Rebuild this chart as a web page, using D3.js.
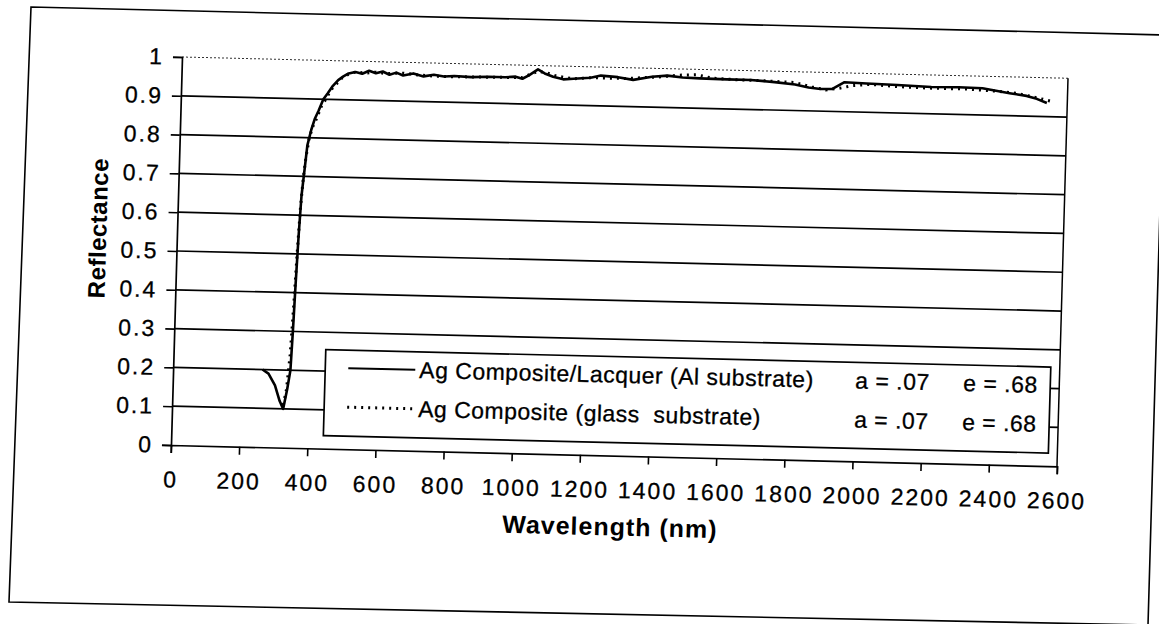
<!DOCTYPE html>
<html>
<head>
<meta charset="utf-8">
<script src="https://cdn.jsdelivr.net/npm/d3@7"></script>
<style>
  body { margin: 0; background: #fff; }
  svg { display: block; }
</style>
</head>
<body>
<div id="chart"></div>
<script>
// axis ticks
const xTicks = [0, 200, 400, 600, 800, 1000, 1200, 1400, 1600, 1800, 2000, 2200, 2400, 2600];
const yTicks = [0, 0.1, 0.2, 0.3, 0.4, 0.5, 0.6, 0.7, 0.8, 0.9, 1];

// Ag Composite/Lacquer (Al substrate) - solid line
const lacquerNm = [262, 280, 300, 315, 326, 336, 344, 348, 352, 357, 362, 368, 375, 385, 395, 405, 418, 430, 445, 460, 475, 490, 510, 530, 550, 570, 590, 610, 630, 650, 680, 710, 740, 770, 800, 850, 900, 950, 980, 1000, 1020, 1045, 1065, 1090, 1120, 1150, 1200, 1230, 1280, 1325, 1380, 1425, 1470, 1520, 1600, 1670, 1740, 1800, 1840, 1875, 1910, 1945, 2010, 2100, 2200, 2280, 2350, 2430, 2480, 2510, 2540];
const lacquerR = [0.20, 0.19, 0.16, 0.12, 0.10, 0.15, 0.20, 0.30, 0.42, 0.55, 0.65, 0.71, 0.78, 0.82, 0.85, 0.87, 0.90, 0.915, 0.935, 0.95, 0.96, 0.968, 0.972, 0.968, 0.976, 0.97, 0.975, 0.967, 0.973, 0.966, 0.972, 0.965, 0.97, 0.966, 0.968, 0.966, 0.968, 0.968, 0.97, 0.965, 0.975, 0.99, 0.98, 0.972, 0.966, 0.968, 0.972, 0.978, 0.975, 0.969, 0.978, 0.982, 0.978, 0.977, 0.976, 0.976, 0.972, 0.967, 0.96, 0.957, 0.958, 0.976, 0.974, 0.972, 0.969, 0.97, 0.969, 0.958, 0.952, 0.945, 0.935];

// Ag Composite (glass substrate) - dotted line
const glassNm = [326, 334, 342, 348, 354, 360, 366, 372, 380, 390, 400, 412, 425, 440, 455, 470, 490, 510, 540, 570, 600, 650, 700, 750, 800, 900, 1000, 1045, 1070, 1100, 1150, 1200, 1300, 1400, 1460, 1510, 1560, 1620, 1700, 1800, 1850, 1890, 1930, 1970, 2020, 2100, 2200, 2300, 2400, 2450, 2500, 2550];
const glassR = [0.11, 0.15, 0.24, 0.36, 0.50, 0.62, 0.70, 0.75, 0.80, 0.83, 0.85, 0.88, 0.90, 0.925, 0.94, 0.955, 0.966, 0.972, 0.97, 0.973, 0.97, 0.972, 0.968, 0.966, 0.966, 0.967, 0.968, 0.985, 0.982, 0.974, 0.968, 0.972, 0.972, 0.978, 0.984, 0.986, 0.978, 0.976, 0.975, 0.972, 0.962, 0.955, 0.96, 0.968, 0.972, 0.968, 0.966, 0.966, 0.962, 0.958, 0.95, 0.94];

const seriesNames = ["Ag Composite/Lacquer (Al substrate)", "Ag Composite (glass  substrate)"];
const absorptance = [".07", ".07"];
const emittance = [".68", ".68"];

const width = 1159;
const height = 624;
const W = 886;   // plot area
const H = 388;
const font = '"Liberation Sans", Arial, sans-serif';

const svg = d3.select("#chart")
  .append("svg")
  .attr("width", width)
  .attr("height", height);

svg.append("rect")
  .attr("width", width)
  .attr("height", height)
  .attr("fill", "#fff");

// outer chart border (skewed by the scan)
const frame = [[31, 7], [1165, 35], [1148, 625], [9, 602]];
svg.append("path")
  .attr("d", d3.line()(frame) + "Z")
  .attr("fill", "none")
  .attr("stroke", "#000")
  .attr("stroke-width", 1.6);

// the scanned page is a little crooked: horizontals drop ~1.4deg, verticals lean ~1.6deg
const g = svg.append("g")
  .attr("transform", "matrix(1,0.024,-0.0284,1,182,57)");

const x = d3.scaleLinear().domain([0, 2600]).range([0, W]);
const y = d3.scaleLinear().domain([0, 1]).range([H, 0]);

// gridlines
g.selectAll(".grid")
  .data(yTicks.filter(d => d > 0 && d < 1))
  .join("line")
  .attr("class", "grid")
  .attr("x1", 0).attr("x2", W)
  .attr("y1", d => y(d)).attr("y2", d => y(d))
  .attr("stroke", "#000")
  .attr("stroke-width", 1.7);

// top edge is a faint dotted line, right edge solid
g.append("line")
  .attr("x1", 0).attr("x2", W)
  .attr("y1", y(1)).attr("y2", y(1))
  .attr("stroke", "#333")
  .attr("stroke-width", 1)
  .attr("stroke-dasharray", "2,2");

g.append("line")
  .attr("x1", W).attr("x2", W)
  .attr("y1", 0).attr("y2", H)
  .attr("stroke", "#000")
  .attr("stroke-width", 1.5);

// axes
const yAxis = g.append("g")
  .call(d3.axisLeft(y).tickValues(yTicks).tickFormat(d => String(d)).tickSize(9).tickPadding(9));

const xAxis = g.append("g")
  .attr("transform", `translate(0,${H})`)
  .call(d3.axisBottom(x).tickValues(xTicks).tickFormat(d => String(d)).tickSize(8).tickPadding(18));

[yAxis, xAxis].forEach(ax => {
  ax.attr("font-family", font).attr("font-size", 23);
  ax.select(".domain").attr("stroke", "#000").attr("stroke-width", 1.7);
  ax.selectAll(".tick line").attr("stroke", "#000").attr("stroke-width", 1.6);
  ax.selectAll(".tick text")
    .attr("fill", "#000")
    .attr("stroke", "#000")
    .attr("stroke-width", 0.3)
    .attr("letter-spacing", 2);
});

// curves
const line = d3.line()
  .x(d => x(d[0]))
  .y(d => y(d[1]));

g.append("path")
  .datum(d3.zip(lacquerNm, lacquerR))
  .attr("fill", "none")
  .attr("stroke", "#000")
  .attr("stroke-width", 2.6)
  .attr("stroke-linejoin", "round")
  .attr("d", line);

g.append("path")
  .datum(d3.zip(glassNm, glassR))
  .attr("fill", "none")
  .attr("stroke", "#000")
  .attr("stroke-width", 3)
  .attr("stroke-dasharray", "2,5")
  .attr("d", line);

// axis titles
g.append("text")
  .attr("transform", "translate(-79,173) rotate(-90)")
  .attr("text-anchor", "middle")
  .attr("dy", "0.35em")
  .attr("font-family", font)
  .attr("font-weight", "bold")
  .attr("font-size", 24)
  .attr("letter-spacing", 0.5)
  .text("Reflectance");

g.append("text")
  .attr("x", 441)
  .attr("y", H + 71)
  .attr("text-anchor", "middle")
  .attr("dy", "0.35em")
  .attr("font-family", font)
  .attr("font-weight", "bold")
  .attr("font-size", 25)
  .attr("letter-spacing", 1)
  .text("Wavelength (nm)");

// legend
const legend = g.append("g").attr("transform", "translate(152,289)");

legend.append("rect")
  .attr("width", 725)
  .attr("height", 86)
  .attr("fill", "#fff")
  .attr("stroke", "#000")
  .attr("stroke-width", 1.7);

const rowY = [18, 57];
const dashes = [null, "2,5"];

const legendText = (xPos, yPos, txt) => legend.append("text")
  .attr("x", xPos)
  .attr("y", yPos)
  .attr("dy", "0.35em")
  .attr("font-family", font)
  .attr("font-size", 23)
  .attr("letter-spacing", 0.5)
  .attr("stroke", "#000")
  .attr("stroke-width", 0.3)
  .style("white-space", "pre")
  .text(txt);

seriesNames.forEach((name, i) => {
  legend.append("line")
    .attr("x1", 23).attr("x2", 90)
    .attr("y1", rowY[i]).attr("y2", rowY[i])
    .attr("stroke", "#000")
    .attr("stroke-width", i === 0 ? 2 : 3)
    .attr("stroke-dasharray", dashes[i]);

  legendText(94, rowY[i], name);
  legendText(530, rowY[i], "a = " + absorptance[i]);
  legendText(638, rowY[i], "e = " + emittance[i]);
});
</script>
</body>
</html>
